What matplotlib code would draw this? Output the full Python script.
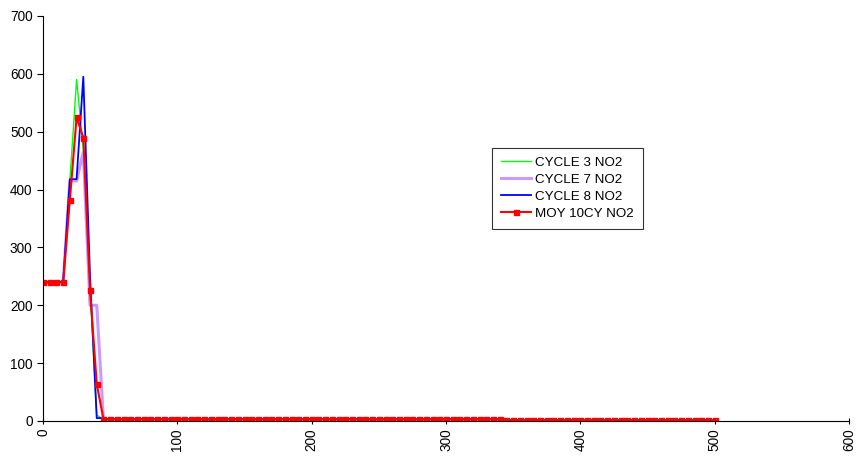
import matplotlib.pyplot as plt

plt.rcParams['font.family'] = ['Liberation Sans', 'DejaVu Sans']

# time axis (s), one sample every 5
x = list(range(0, 505, 5))

# values after the peak (50..500) are near zero, shared by all series
tail = [3, 3, 3, 3, 3, 3, 3, 3, 3, 3, 3, 3, 3, 3, 3, 3, 3, 3, 3, 3,
        3, 3, 3, 3, 3, 3, 3, 3, 3, 3, 3, 3, 3, 3, 3, 3, 3, 3, 3, 3,
        3, 3, 3, 3, 3, 3, 3, 3, 3, 3, 3, 3, 3, 3, 3, 3, 3, 3, 3,
        1, 1, 1, 1, 1, 1, 1, 1, 1, 1, 1, 1, 1, 1, 1, 1, 1, 1, 1, 1,
        1, 1, 1, 1, 1, 1, 1, 1, 1, 1, 1, 1]

cycle3 = [240, 240, 240, 240, 415, 590, 470, 230, 10, 3] + tail
cycle7 = [240, 240, 240, 240, 415, 415, 465, 200, 200, 2] + tail
cycle8 = [240, 240, 240, 240, 418, 418, 595, 250, 5, 5] + tail
moy10 = [240, 240, 240, 240, 382, 525, 490, 226, 64, 3] + tail

labels = ["CYCLE 3 NO2", "CYCLE 7 NO2", "CYCLE 8 NO2", "MOY 10CY NO2"]

fig = plt.figure(figsize=(8.57, 4.57), dpi=100)
ax = fig.add_axes([43 / 857, 36 / 457, 806 / 857, 405 / 457])

ax.plot(x, cycle3, color='#00ff00', lw=1.0, label=labels[0])
ax.plot(x, cycle7, color='#cc99ff', lw=2.2, label=labels[1])
ax.plot(x, cycle8, color='#0000ff', lw=1.3, label=labels[2])
ax.plot(x, moy10, color='#ff0000', lw=1.5, marker='s', markersize=3.6,
        label=labels[3])

ax.set_xlim(0, 600)
ax.set_ylim(0, 700)
ax.set_xticks(range(0, 700, 100))
ax.set_yticks(range(0, 800, 100))
ax.tick_params(axis='x', labelrotation=90, labelsize=9.8, length=4,
               direction='inout')
ax.tick_params(axis='y', labelsize=9.8, length=4, direction='out')
ax.spines['top'].set_visible(False)
ax.spines['right'].set_visible(False)

leg = ax.legend(loc='upper left', bbox_to_anchor=(0.557, 0.674),
                fontsize=9.6, frameon=True, fancybox=False, edgecolor='black',
                handlelength=2.3, handletextpad=0.3, borderpad=0.65,
                labelspacing=0.35, borderaxespad=0)
leg.get_frame().set_linewidth(0.8)

fig.savefig('out.png', dpi=100)
